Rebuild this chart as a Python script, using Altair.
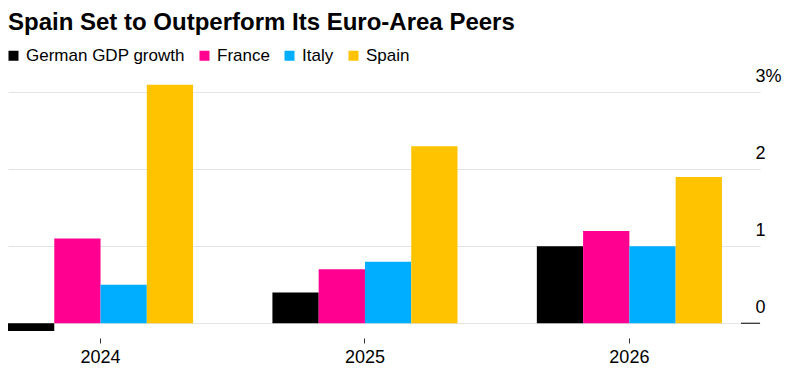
import altair as alt
import pandas as pd

years = ["2024", "2025", "2026"]
series = ["German GDP growth", "France", "Italy", "Spain"]
germany = [-0.1, 0.4, 1.0]
france = [1.1, 0.7, 1.2]
italy = [0.5, 0.8, 1.0]
spain = [3.1, 2.3, 1.9]
colors = ["#000000", "#ff0090", "#00aeff", "#ffc300"]
y_ticks = [0, 1, 2, 3]

rows = []
for name, vals in zip(series, [germany, france, italy, spain]):
    for yr, v in zip(years, vals):
        rows.append({"year": yr, "series": name, "value": v})
df = pd.DataFrame(rows)

FONT = "Liberation Sans"

bars = alt.Chart(df).mark_bar(stroke=None).encode(
    x=alt.X("year:N", sort=years, title=None,
            scale=alt.Scale(paddingInner=0.3, paddingOuter=0.072, align=0),
            axis=alt.Axis(domain=False, grid=False, labelAngle=0, labelFontSize=18,
                          labelFont=FONT, labelColor="#000", tickColor="#333",
                          tickSize=5, offset=4, labelPadding=5)),
    xOffset=alt.XOffset("series:N", sort=series, scale=alt.Scale(paddingInner=0, paddingOuter=0)),
    y=alt.Y("value:Q", title=None,
            scale=alt.Scale(domain=[-0.14, 3.2], nice=False, zero=False),
            axis=alt.Axis(orient="right", values=y_ticks, domain=False, ticks=False,
                          grid=True, gridColor="#e3e3e3", gridWidth=1,
                          labelAlign="left", labelPadding=-5, labelOffset=-11,
                          labelBaseline="alphabetic", labelFontSize=18, labelFont=FONT,
                          labelColor="#000", format=".0f",
                          labelExpr="datum.value == 3 ? '3%' : datum.label")),
    color=alt.Color("series:N", sort=series,
                    scale=alt.Scale(domain=series, range=colors),
                    legend=alt.Legend(title=None, orient="none", direction="horizontal",
                                      legendX=-3, legendY=-30, symbolType="square",
                                      symbolSize=100, symbolStrokeWidth=0,
                                      labelFontSize=17, labelFont=FONT, labelColor="#000",
                                      labelOffset=4, columnPadding=11)),
)

zero = alt.Chart(pd.DataFrame({"v": [0]})).mark_rule(color="#000", strokeWidth=1).encode(
    y=alt.Y("v:Q"), x=alt.value(733), x2=alt.value(752)
)

chart = alt.layer(bars, zero).properties(
    width=752, height=257,
    title=alt.TitleParams("Spain Set to Outperform Its Euro-Area Peers", anchor="start",
                          frame="group",
                          font=FONT, fontSize=24, fontWeight="bold", color="#000",
                          offset=12),
    autosize=alt.AutoSizeParams(type="none"),
    padding={"left": 0, "top": 69, "right": 22, "bottom": 33},
).configure_view(stroke=None)

chart.save("out.html", embed_options={"renderer": "svg", "actions": False})
